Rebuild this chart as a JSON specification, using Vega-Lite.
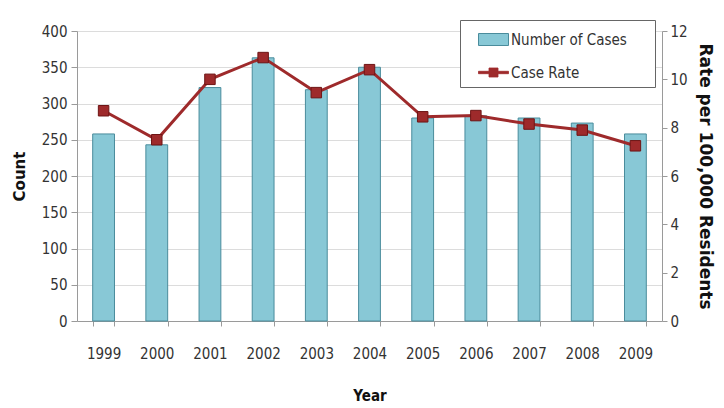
{
  "$schema": "https://vega.github.io/schema/vega-lite/v6.json",
  "width": 585,
  "height": 290,
  "autosize": {"type": "none"},
  "padding": {"left": 77, "top": 31, "right": 62, "bottom": 87},
  "background": "white",
  "config": {
    "view": {"stroke": null},
    "axis": {
      "labelFont": "Liberation Sans Narrow, DejaVu Sans Condensed, Liberation Sans, sans-serif",
      "labelFontSize": 15,
      "labelColor": "#333333",
      "titleFont": "Liberation Sans, sans-serif",
      "titleFontWeight": "bold",
      "titleFontSize": 14,
      "titleColor": "#111111",
      "domainColor": "#9a9a9a",
      "tickColor": "#9a9a9a",
      "gridColor": "#dcdcdc"
    },
    "legend": {
      "labelFont": "Liberation Sans Narrow, DejaVu Sans Condensed, Liberation Sans, sans-serif",
      "labelFontSize": 15,
      "labelColor": "#333333"
    }
  },
  "data": {
    "values": [
      {"year": "1999", "count": 258, "rate": 8.7},
      {"year": "2000", "count": 243, "rate": 7.5},
      {"year": "2001", "count": 322, "rate": 10.0},
      {"year": "2002", "count": 363, "rate": 10.9},
      {"year": "2003", "count": 319, "rate": 9.45},
      {"year": "2004", "count": 350, "rate": 10.4},
      {"year": "2005", "count": 280, "rate": 8.45},
      {"year": "2006", "count": 283, "rate": 8.5},
      {"year": "2007", "count": 280, "rate": 8.15},
      {"year": "2008", "count": 273, "rate": 7.9},
      {"year": "2009", "count": 258, "rate": 7.25}
    ]
  },
  "encoding": {
    "x": {
      "field": "year",
      "type": "ordinal",
      "scale": {"paddingInner": 0.59, "paddingOuter": 0.295},
      "axis": {
        "title": "Year",
        "labelAngle": 0,
        "labelPadding": 20,
        "tickBand": "extent",
        "tickSize": 5,
        "titlePadding": 27,
        "titleFont": "Liberation Sans Narrow, DejaVu Sans Condensed, Liberation Sans, sans-serif",
        "titleFontSize": 15
      }
    }
  },
  "layer": [
    {
      "mark": {"type": "bar", "stroke": "#4a8c9c", "strokeWidth": 1},
      "encoding": {
        "y": {
          "field": "count",
          "type": "quantitative",
          "scale": {"domain": [0, 400]},
          "axis": {
            "title": "Count",
            "titleFont": "DejaVu Sans, sans-serif",
            "titleFontSize": 15,
            "values": [0, 50, 100, 150, 200, 250, 300, 350, 400],
            "tickSize": 6,
            "labelPadding": 4,
            "titlePadding": 14,
            "grid": true
          }
        },
        "fill": {
          "datum": "Number of Cases",
          "type": "nominal",
          "scale": {"range": ["#88c8d6"]},
          "legend": {
            "title": " ",
            "titleOrient": "right",
            "titleAnchor": "start",
            "titleBaseline": "top",
            "titleFont": "DejaVu Sans, sans-serif",
            "titleFontSize": 59,
            "titlePadding": 24,
            "orient": "none",
            "legendX": 383,
            "legendY": -11,
            "fillColor": "white",
            "strokeColor": "#666666",
            "padding": 4,
            "symbolOffset": 14,
            "symbolSize": 900,
            "symbolType": "M-1,-0.4H1V0.4H-1Z",
            "symbolStrokeColor": "#4a8c9c",
            "symbolStrokeWidth": 1,
            "symbolOpacity": 1,
            "labelOffset": 2
          }
        }
      }
    },
    {
      "encoding": {
        "y": {
          "field": "rate",
          "type": "quantitative",
          "scale": {"domain": [0, 12]},
          "axis": {
            "orient": "right",
            "title": "Rate per 100,000 Residents",
            "titleFont": "DejaVu Sans, sans-serif",
            "titleFontSize": 17,
            "values": [0, 2, 4, 6, 8, 10, 12],
            "grid": false,
            "tickSize": 5,
            "labelPadding": 3,
            "titlePadding": 8
          }
        }
      },
      "layer": [
        {
          "mark": {"type": "line", "strokeWidth": 3},
          "encoding": {
            "stroke": {
              "datum": "Case Rate",
              "type": "nominal",
              "scale": {"range": ["#9e2a2b"]},
              "legend": {
                "title": null,
                "orient": "none",
                "legendX": 401,
                "legendY": 26,
                "padding": 0,
                "symbolOffset": 0,
                "symbolSize": 900,
                "symbolType": "M-1,-0.08H-0.3V-0.3H0.3V-0.08H1V0.08H0.3V0.3H-0.3V0.08H-1Z",
                "symbolFillColor": "#9e2a2b",
                "symbolStrokeWidth": 0.8,
                "symbolOpacity": 1,
                "labelOffset": 2
              }
            }
          }
        },
        {"mark": {"type": "square", "size": 110, "filled": true, "opacity": 1, "color": "#9e2a2b", "stroke": "#6e1515", "strokeWidth": 1}}
      ]
    }
  ],
  "resolve": {"scale": {"y": "independent"}}
}
